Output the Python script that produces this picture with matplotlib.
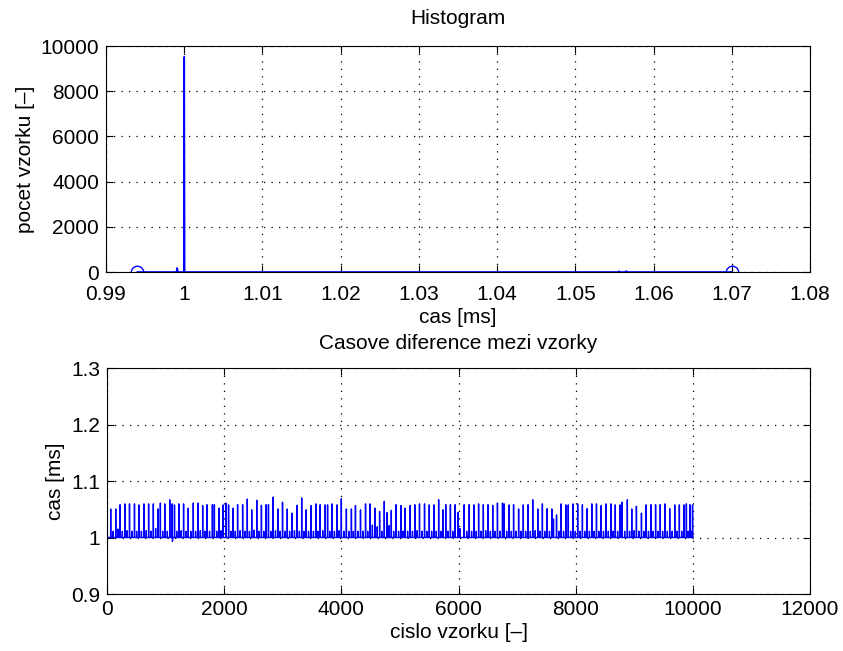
import numpy as np
import matplotlib
matplotlib.use('Agg')
import matplotlib.pyplot as plt
from matplotlib.ticker import FormatStrFormatter

plt.rcParams['font.family'] = ['Liberation Sans', 'DejaVu Sans']

# histogram (top) - line through read points, circles at the ends
hist_x = [0.994, 0.9990, 0.9991, 0.9992, 0.99995, 1.0000, 1.00005, 1.0555, 1.0556, 1.0557, 1.0563, 1.0565, 1.0567, 1.07]
hist_n = [0, 0, 180, 0, 0, 9520, 0, 0, 40, 0, 0, 40, 0, 0]
hist_ends_x = [0.994, 1.07]
hist_ends_n = [0, 0]

# time differences (bottom)
n_samples = 10000
base_val = 1.0
tall_idx = [
    63, 149, 223, 304, 384, 469, 544, 630, 710, 791,
    871, 911, 986, 1071, 1112, 1152, 1226, 1307, 1387, 1473,
    1553, 1633, 1707, 1799, 1833, 1914, 1982, 2029, 2075, 2154,
    2229, 2315, 2395, 2470, 2556, 2636, 2716, 2756, 2836, 2917,
    2996, 3077, 3158, 3244, 3323, 3398, 3484, 3564, 3639, 3725,
    3765, 3839, 3925, 4000, 4086, 4172, 4241, 4327, 4413, 4487,
    4573, 4653, 4733, 4779, 4853, 4934, 5020, 5088, 5174, 5254,
    5334, 5420, 5501, 5581, 5661, 5736, 5782, 5862, 5943, 5994,
    6097, 6183, 6263, 6343, 6424, 6504, 6584, 6665, 6751, 6779,
    6865, 6940, 7026, 7106, 7187, 7267, 7353, 7432, 7513, 7593,
    7621, 7673, 7753, 7834, 7874, 7954, 8034, 8115, 8195, 8275,
    8355, 8435, 8515, 8601, 8676, 8756, 8790, 8882, 8957, 9037,
    9123, 9203, 9283, 9364, 9444, 9525, 9605, 9691, 9770, 9850,
    9890, 9950, 9995]
tall_val = [
    1.0505, 1.0505, 1.058, 1.0595, 1.0595, 1.0595, 1.0577, 1.0595, 1.0595, 1.0595,
    1.0505, 1.061, 1.0595, 1.0667, 1.0595, 1.0577, 1.0595, 1.0595, 1.052, 1.061,
    1.061, 1.0565, 1.058, 1.058, 1.058, 1.052, 1.0577, 1.061, 1.0577, 1.052,
    1.058, 1.058, 1.068, 1.049, 1.066, 1.057, 1.058, 1.058, 1.0715, 1.0505,
    1.0625, 1.0505, 1.043, 1.057, 1.070, 1.049, 1.0565, 1.0595, 1.058, 1.0577,
    1.0577, 1.0595, 1.0577, 1.0685, 1.0505, 1.0505, 1.0565, 1.049, 1.0595, 1.0595,
    1.052, 1.046, 1.064, 1.044, 1.048, 1.058, 1.0565, 1.052, 1.0565, 1.058,
    1.0595, 1.0595, 1.0577, 1.0577, 1.0667, 1.049, 1.058, 1.058, 1.058, 1.0445,
    1.058, 1.058, 1.0577, 1.0595, 1.058, 1.058, 1.057, 1.061, 1.061, 1.0595,
    1.0577, 1.058, 1.0505, 1.0577, 1.058, 1.0667, 1.0505, 1.0595, 1.051, 1.0505,
    1.0327, 1.040, 1.0595, 1.0577, 1.0577, 1.0595, 1.0595, 1.058, 1.051, 1.0595,
    1.0595, 1.0565, 1.0595, 1.0595, 1.0577, 1.0577, 1.0625, 1.0667, 1.0505, 1.0553,
    1.043, 1.0577, 1.058, 1.058, 1.058, 1.0595, 1.051, 1.0577, 1.0577, 1.0577,
    1.0595, 1.058, 1.0577]
small_idx = [
    105, 186, 262, 344, 426, 506, 587, 670, 750, 830,
    950, 1030, 1190, 1266, 1347, 1430, 1512, 1593, 1670, 1750,
    1873, 1948, 2115, 2190, 2272, 2355, 2432, 2512, 2596, 2676,
    2796, 2876, 2956, 3036, 3117, 3200, 3284, 3360, 3440, 3524,
    3601, 3682, 3802, 3882, 3962, 4043, 4128, 4206, 4284, 4370,
    4450, 4530, 4613, 4690, 4816, 4893, 4977, 5054, 5131, 5214,
    5294, 5377, 5460, 5541, 5621, 5698, 5822, 5902, 6022, 6140,
    6223, 6303, 6383, 6464, 6544, 6624, 6708, 6822, 6902, 6983,
    7066, 7146, 7227, 7310, 7392, 7472, 7553, 7713, 7793, 7914,
    7994, 8074, 8155, 8235, 8315, 8395, 8475, 8558, 8638, 8716,
    8836, 8920, 8997, 9080, 9163, 9243, 9323, 9404, 9484, 9565,
    9648, 9730, 9810, 9920, 9975, 1118]
small_val = [
    1.011, 1.015, 1.011, 1.012, 1.011, 1.011, 1.011, 1.012, 1.011, 1.016,
    1.011, 1.011, 1.011, 1.012, 1.011, 1.011, 1.011, 1.012, 1.011, 1.011,
    1.011, 1.012, 1.011, 1.011, 1.012, 1.011, 1.011, 1.013, 1.011, 1.011,
    1.011, 1.012, 1.011, 1.011, 1.011, 1.012, 1.011, 1.011, 1.011, 1.011,
    1.011, 1.012, 1.011, 1.011, 1.012, 1.011, 1.011, 1.011, 1.011, 1.011,
    1.011, 1.022, 1.019, 1.011, 1.021, 1.011, 1.011, 1.011, 1.011, 1.011,
    1.012, 1.011, 1.011, 1.011, 1.011, 1.011, 1.011, 1.011, 1.016, 1.011,
    1.011, 1.011, 1.011, 1.012, 1.011, 1.011, 1.011, 1.011, 1.011, 1.011,
    1.011, 1.011, 1.011, 1.012, 1.011, 1.011, 1.011, 1.011, 1.011, 1.011,
    1.011, 1.011, 1.011, 1.011, 1.011, 1.011, 1.011, 1.011, 1.011, 1.011,
    1.011, 1.011, 1.012, 1.011, 1.011, 1.011, 1.011, 1.011, 1.011, 1.011,
    1.011, 1.011, 1.011, 1.011, 1.011, 0.993]

# sestaveni rady casovych diferenci
sample_no = np.arange(1, n_samples + 1)
dt = np.full(n_samples, base_val)
dt[np.array(small_idx) - 1] = small_val
dt[np.array(tall_idx) - 1] = tall_val

BLUE = (0, 0, 1)
FS = 15
GRID_LS = (0, (1, 5))

fig = plt.figure(figsize=(8.43, 6.51), dpi=100)
W, H = 843, 651
ax1 = fig.add_axes([106 / W, 1 - 272 / H, (810 - 106) / W, (272 - 46) / H])
ax2 = fig.add_axes([107 / W, 1 - 594 / H, (810 - 107) / W, (594 - 368) / H])

ax1.plot(hist_x, hist_n, color=BLUE, linewidth=1.2)
ax1.plot(hist_ends_x, hist_ends_n, 'o', color=BLUE, markerfacecolor='none', markersize=9, markeredgewidth=1.0)
ax1.set_xlim(0.99, 1.08)
ax1.set_ylim(0, 10000)
ax1.set_xticks(np.arange(0.99, 1.0801, 0.01))
ax1.set_yticks(np.arange(0, 10001, 2000))
ax1.xaxis.set_major_formatter(FormatStrFormatter('%g'))
ax1.set_title('Histogram', fontsize=FS, pad=16)
ax1.set_xlabel('cas [ms]', fontsize=FS, labelpad=3)
ax1.set_ylabel('pocet vzorku [\u2013]', fontsize=FS, labelpad=4)
ax1.tick_params(axis='x', pad=9)

ax2.plot(sample_no, dt, color=BLUE, linewidth=1.0)
ax2.set_xlim(0, 12000)
ax2.set_ylim(0.9, 1.3)
ax2.set_xticks(np.arange(0, 12001, 2000))
ax2.set_yticks([0.9, 1.0, 1.1, 1.2, 1.3])
ax2.yaxis.set_major_formatter(FormatStrFormatter('%g'))
ax2.set_title('Casove diference mezi vzorky', fontsize=FS, pad=14)
ax2.set_xlabel('cislo vzorku [\u2013]', fontsize=FS, labelpad=3)
ax2.set_ylabel('cas [ms]', fontsize=FS, labelpad=4)
ax2.tick_params(axis='x', pad=4)

for ax in (ax1, ax2):
    ax.grid(True, linestyle=GRID_LS, color='black', linewidth=0.9)
    ax.tick_params(direction='in', top=True, right=True, labelsize=FS, length=5, width=0.8)
    ax.tick_params(axis='y', pad=5)
    for s in ax.spines.values():
        s.set_linewidth(0.8)

fig.savefig('out.png', dpi=100)
